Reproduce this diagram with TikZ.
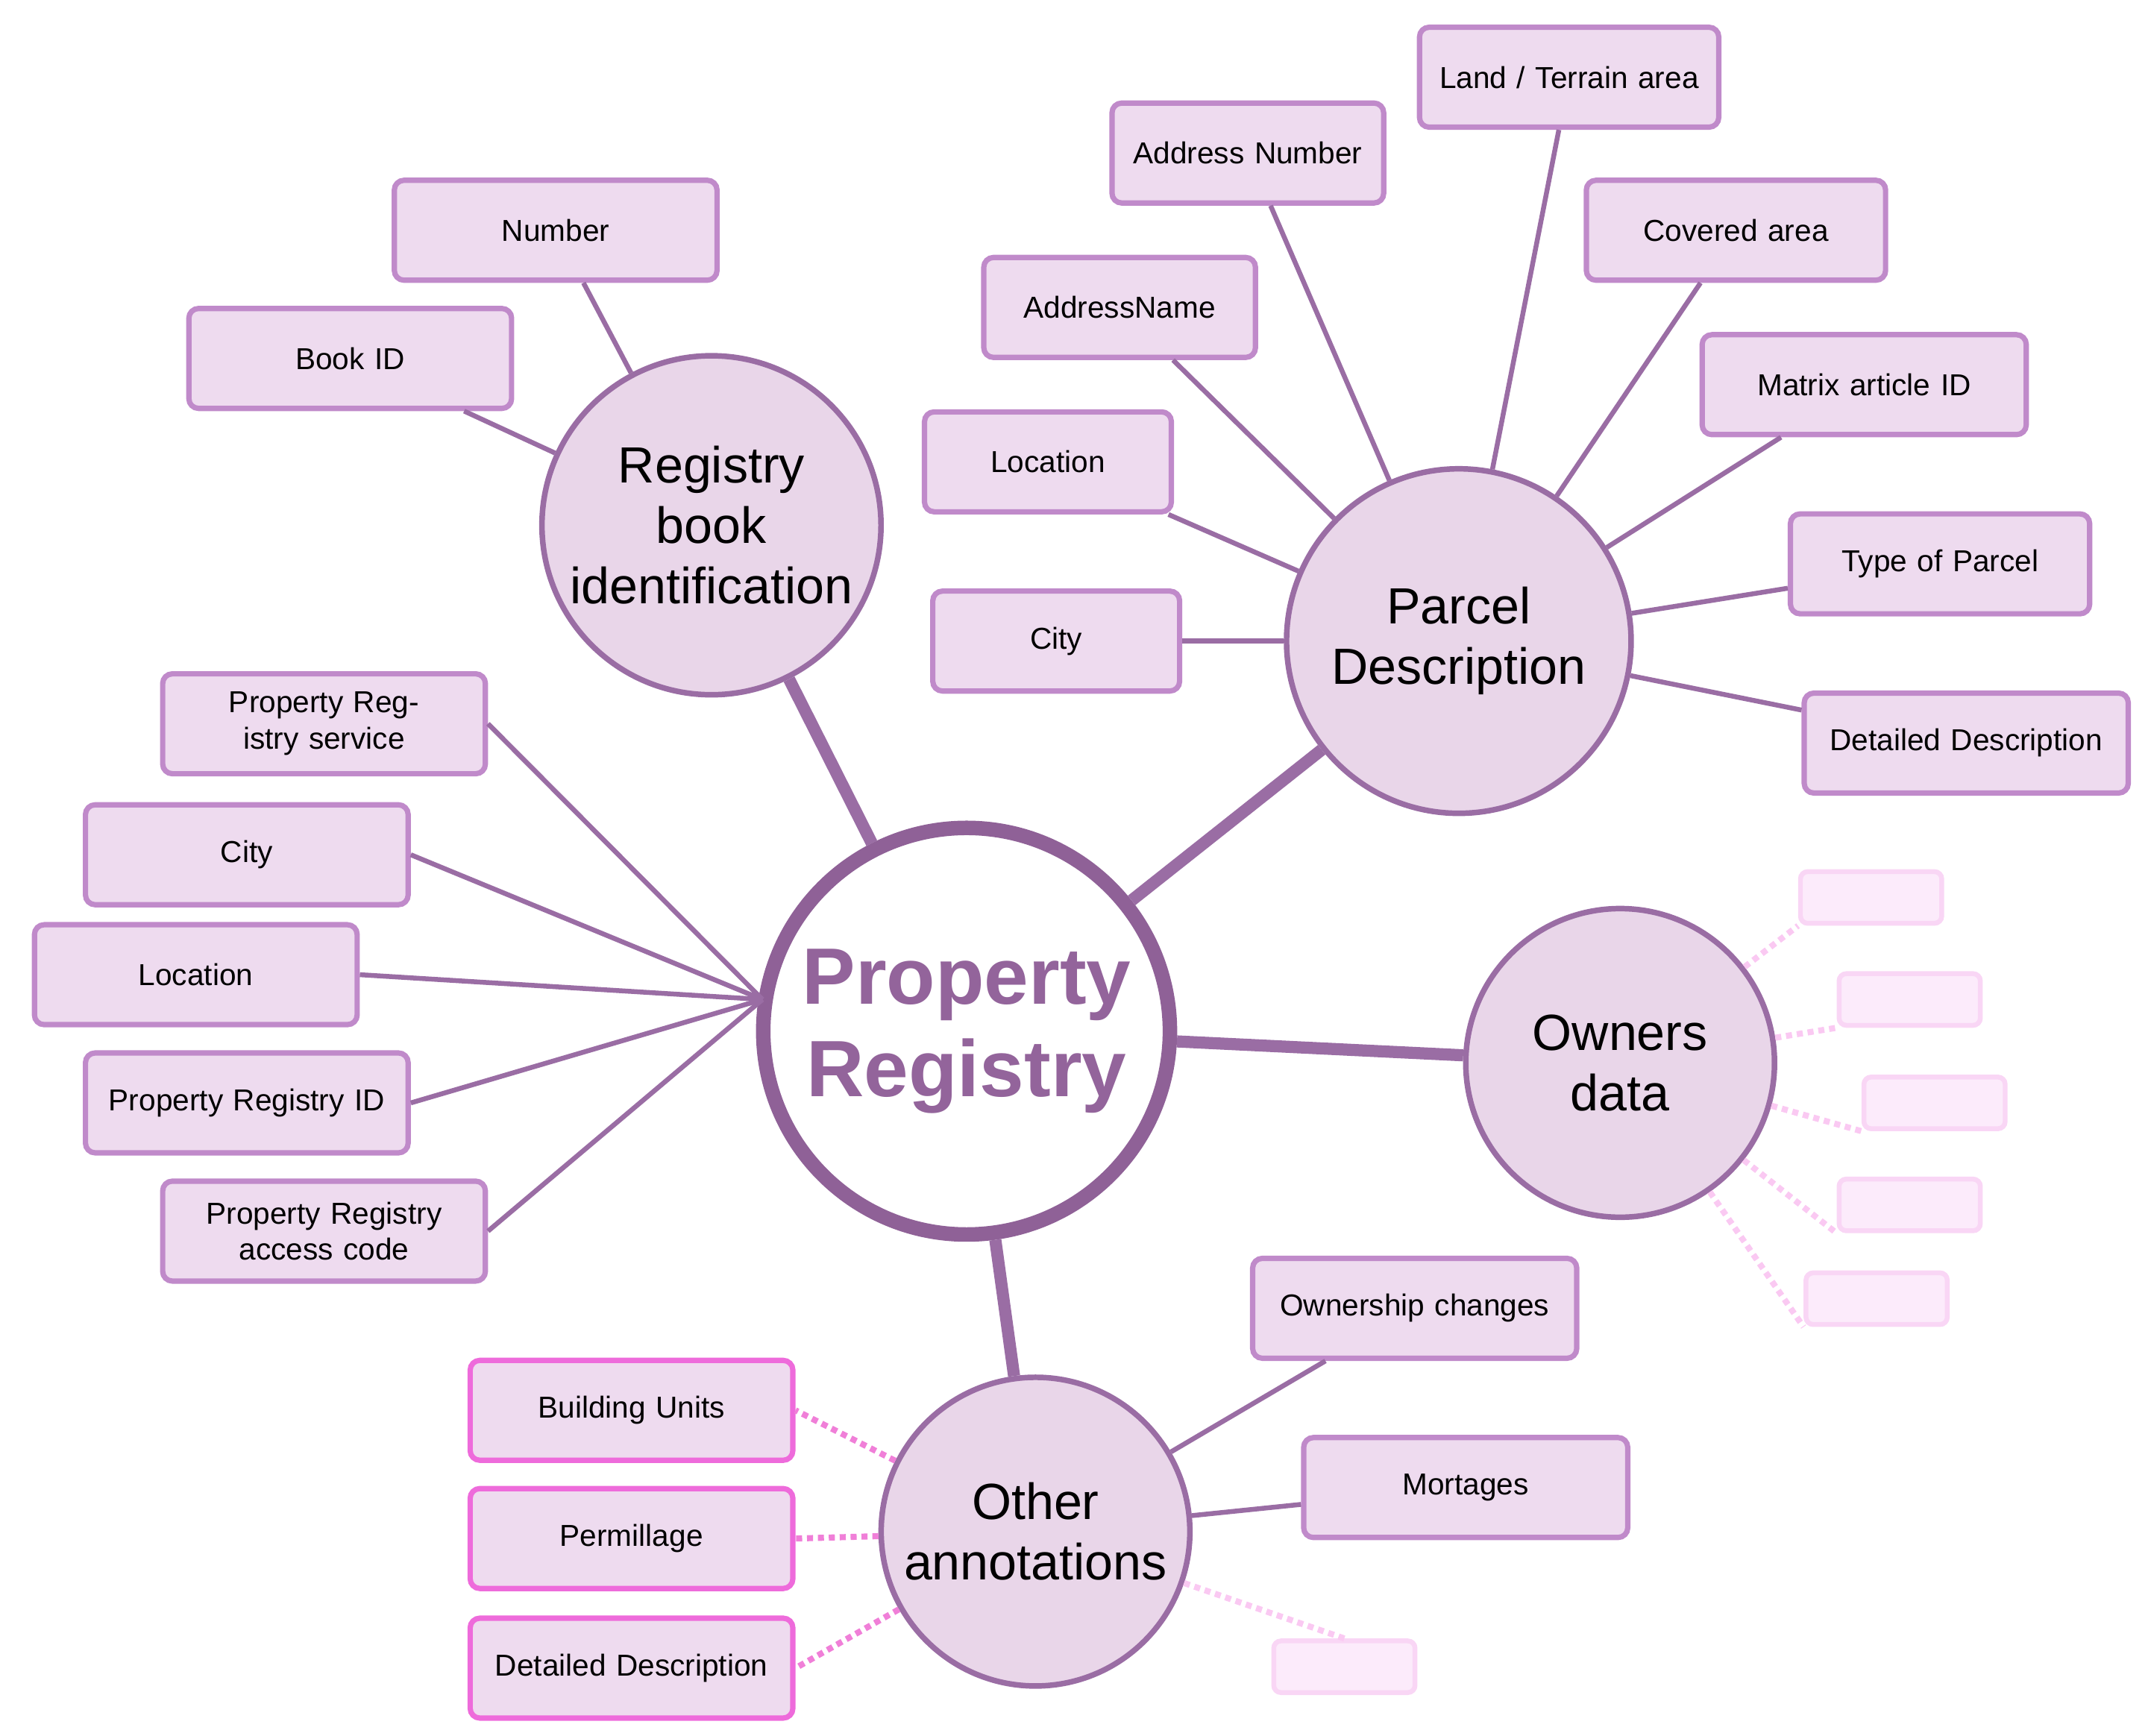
\documentclass[tikz,border=0pt]{standalone}
\usepackage{fontspec}
\setmainfont{Liberation Sans}
\begin{document}
\begin{tikzpicture}[x=0.02cm,y=-0.02cm,
  box/.style={draw=boxb,fill=boxf,line width=2.2pt,rounded corners=4pt,minimum height=1.45cm,text width=#1*0.02cm-0.3cm,align=center,font=\fontsize{12.5}{15}\selectfont,inner sep=2pt},
  pbox/.style={box=#1,draw=pinkb},
  fbox/.style={draw=faintb,fill=faintf,line width=2pt,rounded corners=3pt,minimum width=2.05cm,minimum height=0.75cm},
  circ/.style={circle,draw=edge,fill=circf,line width=2.3pt,minimum size=#1*0.04cm,align=center,font=\fontsize{21}{25}\selectfont,inner sep=0pt},
  e/.style={draw=edge,line width=2pt},
  big/.style={draw=edge,line width=5pt},
  pd/.style={draw=pinkd,line width=2.5pt,dotted},
  fd/.style={draw=faintd,line width=2.5pt,dotted}]
\definecolor{boxf}{HTML}{EEDBEF}
\definecolor{boxb}{HTML}{C08ACA}
\definecolor{circf}{HTML}{E9D6E9}
\definecolor{edge}{HTML}{9A6DA4}
\definecolor{mainb}{HTML}{8F6197}
\definecolor{maint}{HTML}{93649B}
\definecolor{pinkb}{HTML}{EE6BDB}
\definecolor{pinkd}{HTML}{F07FD8}
\definecolor{faintb}{HTML}{F9D6F5}
\definecolor{faintf}{HTML}{FCEBFB}
\definecolor{faintd}{HTML}{FAC9F2}
\useasboundingbox (0,0) rectangle (1560,1259);
% circles
\node[circ=123] (rb) at (516,381) {Registry\\book\\identification};
\node[circ=125] (pd) at (1058,465) {Parcel\\Description};
\node[circ=112] (od) at (1175,771) {Owners\\data};
\node[circ=112] (oa) at (751,1111) {Other\\annotations};
\node[circle,draw=mainb,fill=white,line width=6pt,minimum size=5.9cm,align=center,text=maint,font=\fontsize{33}{38}\selectfont\bfseries] (c) at (701,748) {Property\\Registry};
\coordinate (hub) at (553,725);
% boxes
\node[box=242] (n1) at (403,167) {Number};
\node[box=242] (n2) at (254,260) {Book ID};
\node[box=205] (p1) at (905,111) {Address Number};
\node[box=225] (p2) at (1138,56) {Land / Terrain area};
\node[box=205] (p3) at (812,223) {AddressName};
\node[box=225] (p4) at (1259,167) {Covered area};
\node[box=187] (p5) at (760,335) {Location};
\node[box=243] (p6) at (1352,279) {Matrix article ID};
\node[box=187] (p7) at (766,465) {City};
\node[box=225] (p8) at (1407,409) {Type of Parcel};
\node[box=243] (p9) at (1426,539) {Detailed Description};
\node[box=242] (l1) at (235,525) {Property Registry service};
\node[box=242] (l2) at (179,620) {City};
\node[box=242] (l3) at (142,707) {Location};
\node[box=242] (l4) at (179,800) {Property Registry ID};
\node[box=242] (l5) at (235,893) {Property Registry access code};
\node[box=243] (o1) at (1026,949) {Ownership changes};
\node[box=243] (o2) at (1063,1079) {Mortages};
\node[pbox=242] (b1) at (458,1023) {Building Units};
\node[pbox=242] (b2) at (458,1116) {Permillage};
\node[pbox=242] (b3) at (458,1210) {Detailed Description};
\node[fbox] (f1) at (1357,651) {};
\node[fbox] (f2) at (1385,725) {};
\node[fbox] (f3) at (1403,800) {};
\node[fbox] (f4) at (1385,874) {};
\node[fbox] (f5) at (1361,942) {};
\node[fbox] (f6) at (975,1209) {};
\begin{scope}[on background layer/.style={}]
\end{scope}
% edges (drawn over, node borders clip)
\draw[big] (c) -- (rb);
\draw[big] (c) -- (pd);
\draw[big] (c) -- (od);
\draw[big] (c) -- (oa);
\foreach \n in {n1,n2} \draw[e] (rb) -- (\n);
\foreach \n in {p1,p2,p3,p4,p5,p6,p7,p8,p9} \draw[e] (pd) -- (\n);
\foreach \n in {o1,o2} \draw[e] (oa) -- (\n);
\foreach \n in {l1,l2,l3,l4,l5} \draw[e] (hub) -- (\n.east);
\foreach \n in {b1,b2,b3} \draw[pd] (oa) -- (\n.east);
\foreach \n in {f1,f2,f3,f4,f5} \draw[fd] (od) -- (\n.south west);
\draw[fd] (oa) -- (f6.north);
\end{tikzpicture}
\end{document}
